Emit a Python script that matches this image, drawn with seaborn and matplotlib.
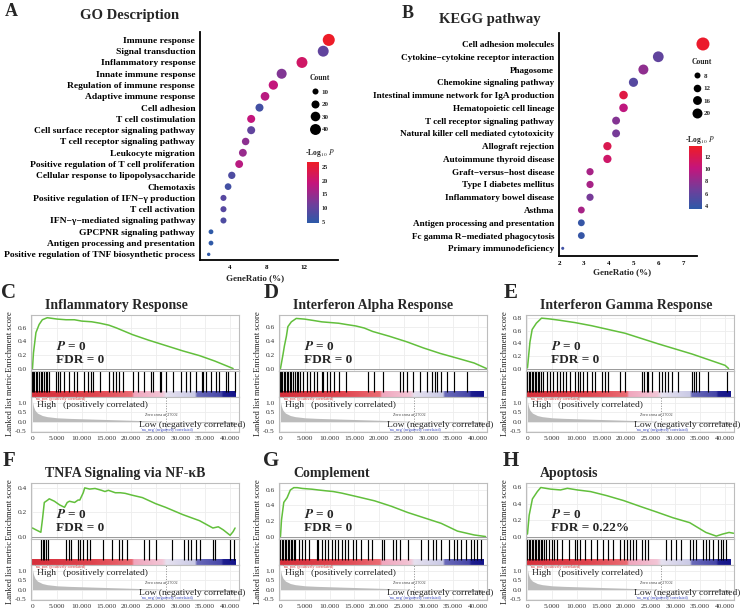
import numpy as np
import pandas as pd
import matplotlib
matplotlib.use('Agg')
import matplotlib.pyplot as plt
import seaborn as sns
from matplotlib.colors import LinearSegmentedColormap, Normalize
from matplotlib.cm import ScalarMappable
from matplotlib.lines import Line2D

sns.set_style('white')
plt.rcParams['font.family'] = ['Liberation Serif', 'DejaVu Serif']
plt.rcParams['mathtext.fontset'] = 'stix'

# ---------------- GO enrichment (panel A) ----------------
go_terms = ['Immune response', 'Signal transduction', 'Inflammatory response',
            'Innate immune response', 'Regulation of immune response',
            'Adaptive immune response', 'Cell adhesion', 'T cell costimulation',
            'Cell surface receptor signaling pathway', 'T cell receptor signaling pathway',
            'Leukocyte migration', 'Positive regulation of T cell proliferation',
            'Cellular response to lipopolysaccharide', 'Chemotaxis',
            'Positive regulation of IFN\u2212\u03b3 production', 'T cell activation',
            'IFN\u2212\u03b3\u2212mediated signaling pathway', 'GPCPNR signaling pathway',
            'Antigen processing and presentation',
            'Positive regulation of TNF biosynthetic process']
go_ratio = [14.7, 14.1, 11.8, 9.6, 8.7, 7.8, 7.2, 6.3, 6.3, 5.7, 5.4, 5.0, 4.2, 3.8,
            3.3, 3.3, 3.3, 1.95, 1.95, 1.7]
go_count = [49, 40, 40, 33, 28, 24, 20, 20, 20, 17, 19, 19, 16, 13, 10, 10, 10, 5, 5, 1]
go_logp = [26.5, 10, 21, 13, 19, 18, 7, 19, 10, 14, 15, 18, 8, 7, 9, 9, 8, 5, 5, 5]
go_legend_counts = [10, 20, 30, 40]
go_cbar_ticks = [5, 10, 15, 20, 25]

# ---------------- KEGG enrichment (panel B) ----------------
kegg_terms = ['Cell adhesion molecules', 'Cytokine\u2212cytokine receptor interaction',
              'Phagosome', 'Chemokine signaling pathway',
              'Intestinal immune network for IgA production', 'Hematopoietic cell lineage',
              'T cell receptor signaling pathway', 'Natural killer cell mediated cytotoxicity',
              'Allograft rejection', 'Autoimmune thyroid disease',
              'Graft\u2212versus\u2212host disease', 'Type I diabetes mellitus',
              'Inflammatory bowel disease', 'Asthma', 'Antigen processing and presentation',
              'Fc gamma R\u2212mediated phagocytosis', 'Primary immunodeficiency']
kegg_ratio = [7.8, 6.0, 5.4, 5.0, 4.6, 4.6, 4.3, 4.3, 3.95, 3.95, 3.25, 3.25, 3.25,
              2.9, 2.9, 2.9, 2.15]
kegg_count = [33, 23, 20, 17, 15, 15, 13, 13, 14, 14, 11, 11, 11, 10, 10, 10, 3]
kegg_logp = [13.5, 6, 8, 5.5, 12.5, 10, 7.5, 7, 12, 11, 9, 9, 7, 9, 4, 4, 4.5]
kegg_legend_counts = [8, 12, 16, 20]
kegg_cbar_ticks = [4, 6, 8, 10, 12]

# ---------------- GSEA panels (C-H) ----------------
rank_x = [0, 200, 500, 1000, 2000, 3000, 5000, 7500, 10000, 15000, 20000, 25000,
          27000, 30000, 35000, 40000, 40800, 41000]
rank_y = [1.05, 0.8, 0.6, 0.45, 0.32, 0.26, 0.2, 0.17, 0.15, 0.11, 0.07, 0.03,
          0.0, -0.03, -0.06, -0.1, -0.2, -0.45]
rank_xticks = [0, 5000, 10000, 15000, 20000, 25000, 30000, 35000, 40000]
rank_xlabels = ['0', '5.000', '10.000', '15.000', '20.000', '25.000', '30.000',
                '35.000', '40.000']

c_es_x = [0, 200, 700, 1350, 2000, 3000, 4000, 5000, 6800, 8500, 10000, 12000, 13600,
          15500, 17000, 20300, 23500, 27000, 30500, 33900, 37000, 40700]
c_es_y = [0, 0.23, 0.53, 0.65, 0.72, 0.75, 0.74, 0.73, 0.72, 0.72, 0.70, 0.69, 0.67,
          0.64, 0.60, 0.50, 0.42, 0.34, 0.26, 0.19, 0.11, 0.0]
c_hits = [0, 200, 400, 700, 1000, 1300, 1700, 1900, 2400, 2800, 3000, 3400, 4700, 5100,
          5600, 6400, 7500, 8500, 9100, 10500, 11200, 11900, 12200, 13600, 15600, 16300,
          16900, 17600, 18300, 20300, 21400, 22700, 24100, 24400, 25800, 26100, 27100,
          28500, 30200, 31200, 31900, 33200, 34300, 34600, 35200, 36300, 37300, 37900,
          39300, 39600, 41000]

d_es_x = [0, 500, 800, 1200, 1500, 2200, 3200, 4900, 6700, 8400, 10100, 11800, 13500,
          15300, 17000, 18700, 22100, 25600, 29000, 32400, 35900, 39300, 41800]
d_es_y = [0, 0.2, 0.33, 0.47, 0.61, 0.68, 0.73, 0.72, 0.70, 0.68, 0.67, 0.66, 0.64,
          0.62, 0.59, 0.54, 0.47, 0.39, 0.30, 0.22, 0.15, 0.08, 0.0]
d_hits = [0, 200, 400, 700, 1000, 1300, 1600, 1900, 2200, 2500, 2900, 3300, 3600, 3900,
          4600, 5300, 6000, 6700, 7400, 8400, 8700, 9400, 10100, 10800, 11800, 13200,
          17700, 19000, 20800, 24200, 24900, 25600, 26900, 28300, 29700, 30700, 31400,
          31800, 32500, 33800, 35200, 37900]

e_es_x = [0, 500, 950, 1800, 2850, 4200, 6200, 9600, 13000, 19800, 26600, 33400,
          40100, 40800]
e_es_y = [0.01, 0.42, 0.62, 0.72, 0.80, 0.79, 0.77, 0.73, 0.68, 0.56, 0.39, 0.23,
          0.05, 0.0]
e_hits = [0, 300, 600, 900, 1200, 1500, 1800, 2100, 2400, 2700, 3200, 3900, 4500,
          5200, 5900, 6600, 7300, 7900, 8600, 9600, 10200, 10600, 11300, 12000, 13000,
          13700, 15100, 15700, 16400, 18800, 19800, 23200, 23700, 24200, 24500, 25200,
          26600, 27300, 27900, 28600, 29300, 30600, 33400, 33800, 34200, 34700, 36700,
          40500]

f_es_x = [0, 700, 1700, 2050, 2400, 3100, 3400, 4450, 5500, 6500, 7050, 7500, 8550,
          9250, 9600, 10300, 10600, 11600, 12700, 14000, 14700, 15400, 16800, 17800,
          18800, 20200, 22300, 25000, 27000, 30500, 33900, 36600, 37700, 38700, 40100,
          40700, 41100]
f_es_y = [0.07, 0.055, 0.035, 0.15, 0.28, 0.30, 0.31, 0.29, 0.26, 0.24, 0.28, 0.29,
          0.28, 0.30, 0.30, 0.36, 0.40, 0.39, 0.395, 0.38, 0.37, 0.38, 0.36, 0.36,
          0.355, 0.34, 0.32, 0.27, 0.24, 0.18, 0.13, 0.07, 0.08, 0.055, 0.01, 0.04, 0.07]
f_hits = [1700, 2050, 2400, 2700, 3100, 6800, 7500, 7900, 9200, 9600, 10300, 11000,
          11600, 14400, 16100, 17500, 18200, 19200, 22600, 23600, 25000, 28400, 30800,
          31500, 32200, 33200, 33900, 36600, 37000, 40100, 40800]

g_es_x = [0, 200, 670, 1340, 2000, 2700, 3400, 4400, 6400, 7700, 9100, 10700, 12400,
          14100, 15800, 19100, 22500, 25800, 29200, 32600, 35900, 39300, 41600]
g_es_y = [0, 0.21, 0.44, 0.50, 0.60, 0.63, 0.63, 0.62, 0.61, 0.60, 0.59, 0.58, 0.56,
          0.535, 0.51, 0.46, 0.39, 0.31, 0.24, 0.17, 0.07, 0.02, 0.0]
g_hits = [0, 300, 600, 900, 1200, 1500, 1800, 2100, 2400, 2700, 3000, 3700, 4400, 5000,
          5700, 7400, 7700, 8400, 9100, 9700, 10400, 11100, 11700, 12400, 13100, 13800,
          14800, 15400, 16400, 17800, 18500, 20500, 21100, 22800, 23500, 24200, 25800,
          28500, 29900, 30900, 31500, 32600, 34200, 35200, 35900, 36600, 37600, 38600,
          39300, 39900, 40600]

h_es_x = [0, 340, 1000, 2000, 2700, 3700, 4700, 6700, 8100, 10100, 12800, 16100, 19500,
          22800, 26200, 29500, 32900, 36200, 38300, 39600, 40900, 41800]
h_es_y = [0.03, 0.26, 0.46, 0.55, 0.60, 0.59, 0.58, 0.57, 0.59, 0.57, 0.55, 0.50, 0.44,
          0.37, 0.30, 0.23, 0.17, 0.05, 0.005, 0.03, 0.05, 0.04]
h_hits = [0, 300, 600, 900, 1200, 1500, 1800, 2100, 2400, 2700, 3000, 3300, 3700, 4400,
          5000, 5400, 6000, 7000, 8400, 9700, 10100, 10700, 11700, 12800, 14100, 15400,
          16400, 17400, 18800, 19500, 20100, 20800, 21500, 22100, 23200, 23800, 24500,
          28200, 29200, 30200, 31200, 32900, 33600, 34200, 35600, 36200, 36900, 37600,
          38600, 39300, 39600, 40300]

gsea_titles = ['Inflammatory Response', 'Interferon Alpha Response',
               'Interferon Gamma Response', 'TNFA Signaling via NF-\u03baB',
               'Complement', 'Apoptosis']
gsea_letters = ['C', 'D', 'E', 'F', 'G', 'H']
gsea_fdr = ['FDR = 0', 'FDR = 0', 'FDR = 0', 'FDR = 0', 'FDR = 0', 'FDR = 0.22%']
gsea_es_ticks = [[0, 0.2, 0.4, 0.6], [0, 0.2, 0.4, 0.6], [0, 0.2, 0.4, 0.6, 0.8],
                 [0, 0.2, 0.4], [0, 0.2, 0.4, 0.6], [0, 0.2, 0.4, 0.6]]
gsea_es_top = [0.79, 0.78, 0.85, 0.44, 0.69, 0.655]
gsea_zero_cross = [27002, 27002, 27002, 27002, 27002, 27002]

# ---------------- figure ----------------
W, H = 743, 616
fig = plt.figure(figsize=(W / 100, H / 100), dpi=100)


def px(x0, y0, w, h):
    return [x0 / W, 1 - (y0 + h) / H, w / W, h / H]


def ftext(x, y, s, **kw):
    return fig.text(x / W, 1 - y / H, s, **kw)


dot_cmap = LinearSegmentedColormap.from_list(
    'logp', [(0, '#2c5aa8'), (0.3, '#6e3f9b'), (0.65, '#c4157c'), (1, '#ee1c25')])


def dot_panel(rect, terms, ratio, count, logp, xlim, xticks, ylim, size_norm, sizes,
              hue_norm, leg_counts, leg_anchor, cbar_rect, cbar_ticks, cbar_title_xy,
              xlabel_xy, label_size):
    ax = fig.add_axes(px(*rect))
    df = pd.DataFrame({'term': terms, 'ratio': ratio, 'count': count, 'logp': logp})
    df['pos'] = np.arange(len(df))
    sns.scatterplot(data=df, x='ratio', y='pos', hue='logp', size='count',
                    palette=dot_cmap, hue_norm=hue_norm, sizes=sizes,
                    size_norm=size_norm, linewidth=0, legend=False, ax=ax,
                    clip_on=False)
    ax.set_xlim(*xlim)
    ax.set_ylim(*ylim)
    ax.set_yticks(df['pos'])
    ax.set_yticklabels(terms, fontweight='bold', fontsize=label_size)
    ax.set_xticks(xticks)
    ax.set_xticklabels([str(t) for t in xticks], fontweight='bold', fontsize=5)
    ax.set_xlabel('')
    ax.set_ylabel('')
    sns.despine(ax=ax)
    for s in ['left', 'bottom']:
        ax.spines[s].set_linewidth(1.3)
        ax.spines[s].set_color('black')
    ax.tick_params(length=2, width=0.7, pad=1.5, colors='black')
    ax.patch.set_alpha(0)

    def msize(c):
        s = sizes[0] + (c - size_norm[0]) / (size_norm[1] - size_norm[0]) * (sizes[1] - sizes[0])
        return np.sqrt(s)

    handles = [Line2D([], [], ls='', marker='o', color='black', markeredgewidth=0,
                      markersize=msize(c)) for c in leg_counts]
    ax.legend(handles, [str(c) for c in leg_counts], title='Count',
              loc='upper left', bbox_to_anchor=(leg_anchor[0] / W, 1 - leg_anchor[1] / H),
              bbox_transform=fig.transFigure, frameon=False,
              prop={'weight': 'bold', 'size': 5},
              title_fontproperties={'weight': 'bold', 'size': 5.5},
              handletextpad=0.4, labelspacing=0.95, borderpad=0, handlelength=1.2)

    cax = fig.add_axes(px(*cbar_rect))
    cb = fig.colorbar(ScalarMappable(norm=Normalize(*hue_norm), cmap=dot_cmap), cax=cax)
    cb.set_ticks(cbar_ticks)
    cb.outline.set_visible(False)
    cax.tick_params(length=2.5, width=0.6, color='white', direction='in', labelsize=4.5,
                    left=True, right=True, pad=2)
    for t in cax.get_yticklabels():
        t.set_fontweight('bold')
    ftext(cbar_title_xy[0], cbar_title_xy[1], r'-Log$_{10}$ $\mathit{P}$', fontsize=5.5,
          fontweight='bold', ha='center', va='center')
    ftext(xlabel_xy[0], xlabel_xy[1], 'GeneRatio (%)', fontsize=6.5, fontweight='bold',
          ha='center', va='center')
    return ax


dot_panel((200, 32, 138, 228), go_terms, go_ratio, go_count, go_logp,
          xlim=(0.76, 15.7), xticks=[4, 8, 12], ylim=(19.5, -0.7),
          size_norm=(0, 50), sizes=(4.7, 76.2), hue_norm=(4.6, 26.8),
          leg_counts=go_legend_counts, leg_anchor=(306, 71),
          cbar_rect=(307, 162, 12, 61), cbar_ticks=go_cbar_ticks,
          cbar_title_xy=(320, 153), xlabel_xy=(255, 278), label_size=6.8)
dot_panel((559, 33, 138, 223), kegg_terms, kegg_ratio, kegg_count, kegg_logp,
          xlim=(2, 7.56), xticks=[2, 3, 4, 5, 6, 7], ylim=(16.6, -0.86),
          size_norm=(2, 35), sizes=(2.1, 93.2), hue_norm=(3.5, 13.8),
          leg_counts=kegg_legend_counts, leg_anchor=(688, 55),
          cbar_rect=(689, 146, 13, 63), cbar_ticks=kegg_cbar_ticks,
          cbar_title_xy=(700, 140), xlabel_xy=(622, 272), label_size=6.6)

ftext(11, 11, 'A', fontsize=13, fontweight='bold', ha='center', va='center')
ftext(408, 14, 'B', fontsize=13, fontweight='bold', ha='center', va='center')
ftext(130, 16, 'GO Description', fontsize=10.5, fontweight='bold', ha='center', va='center')
ftext(490, 20, 'KEGG pathway', fontsize=10.5, fontweight='bold', ha='center', va='center')

# ---------------- GSEA ----------------
band_cmap = LinearSegmentedColormap.from_list(
    'band', [(0.0, '#d62f3b'), (0.3, '#df444e'), (0.49, '#ea6c74'), (0.5, '#f0a6bd'),
             (0.64, '#f3c6d6'), (0.66, '#e6e2f0'), (0.80, '#cacae6'), (0.81, '#6a6ab8'),
             (0.93, '#4646a8'), (0.94, '#1e1e8e'), (1.0, '#14148a')])

gsea_es_x = [c_es_x, d_es_x, e_es_x, f_es_x, g_es_x, h_es_x]
gsea_es_y = [c_es_y, d_es_y, e_es_y, f_es_y, g_es_y, h_es_y]
gsea_hits = [c_hits, d_hits, e_hits, f_hits, g_hits, h_hits]
col_lefts = [31, 279, 526]
row_tops = [315, 483]
XLIM = (-300, 41900)
frame_col = '#bdbdbd'


def style_frame(ax):
    for s in ax.spines.values():
        s.set_color(frame_col)
        s.set_linewidth(0.8)


for i in range(6):
    x0 = col_lefts[i % 3]
    y0 = row_tops[i // 3]
    top = gsea_es_top[i]

    ax_es = fig.add_axes(px(x0, y0, 208, 56))
    sns.lineplot(x=gsea_es_x[i], y=gsea_es_y[i], ax=ax_es, color='#62bf3c',
                 linewidth=1.1, estimator=None)
    ax_es.set_xlim(*XLIM)
    ax_es.set_ylim(-top * 2.5 / 54, top)
    ax_es.set_xticks(rank_xticks)
    ax_es.set_xticklabels([])
    ax_es.set_yticks(gsea_es_ticks[i])
    ax_es.set_yticklabels(['%.1f' % v for v in gsea_es_ticks[i]])
    ax_es.grid(True, color='#ededed', linewidth=0.6)
    ax_es.axhline(0, color='#9a9a9a', linewidth=0.7)
    ax_es.tick_params(length=0, labelsize=5.3, labelcolor='#333333', pad=3)
    style_frame(ax_es)
    ax_es.text(0.12, 0.43, r'$\boldsymbol{P}$ = 0', transform=ax_es.transAxes,
               fontsize=9.5, fontweight='bold', ha='left', va='center')
    ax_es.text(0.12, 0.2, gsea_fdr[i], transform=ax_es.transAxes, fontsize=9.5,
               fontweight='bold', ha='left', va='center')

    ax_hit = fig.add_axes(px(x0, y0 + 56, 208, 26))
    ax_hit.vlines(gsea_hits[i], 0.2, 1, color='black', linewidth=0.85)
    ax_hit.imshow(np.linspace(0, 1, 256)[None, :], aspect='auto', cmap=band_cmap,
                  extent=(0, 41200, 0, 0.2))
    ax_hit.set_xlim(*XLIM)
    ax_hit.set_ylim(0, 1)
    ax_hit.set_xticks([])
    ax_hit.set_yticks([])
    style_frame(ax_hit)

    ax_rk = fig.add_axes(px(x0, y0 + 82, 208, 35))
    ax_rk.fill_between(rank_x, rank_y, 0, color='#bcbcbc', linewidth=0)
    ax_rk.axvline(gsea_zero_cross[i], color='#8a8a8a', linestyle=':', linewidth=0.7)
    ax_rk.set_xlim(*XLIM)
    ax_rk.set_ylim(-0.55, 1.3)
    ax_rk.set_yticks([1.0, 0.5, 0.0, -0.5])
    ax_rk.set_yticklabels(['1.0', '0.5', '0.0', '-0.5'])
    ax_rk.set_xticks(rank_xticks)
    ax_rk.set_xticklabels(rank_xlabels)
    ax_rk.grid(True, color='#ededed', linewidth=0.6)
    ax_rk.tick_params(length=0, labelsize=5.3, labelcolor='#333333', pad=3)
    style_frame(ax_rk)
    ax_rk.text(0.02, 0.93, "'na_pos' (positively correlated)", transform=ax_rk.transAxes,
               fontsize=3, color='#d03030', ha='left', va='center')
    ax_rk.text(0.03, 0.76, 'High   (positively correlated)', transform=ax_rk.transAxes,
               fontsize=6.8, color='#222222', ha='left', va='center')
    ax_rk.text(0.55, 0.5, 'Zero cross at %d' % gsea_zero_cross[i],
               transform=ax_rk.transAxes, fontsize=3, color='#333333', ha='left',
               va='center')
    ax_rk.text(0.52, 0.2, 'Low (negatively correlated)', transform=ax_rk.transAxes,
               fontsize=6.8, color='#222222', ha='left', va='center')
    ax_rk.text(0.53, 0.05, "'na_neg' (negatively correlated)", transform=ax_rk.transAxes,
               fontsize=3, color='#3040c0', ha='left', va='center')

    ftext(x0 - 21, y0 + 27, 'Enrichment score', rotation=90, fontsize=6.2,
          ha='center', va='center', color='#222222')
    ftext(x0 - 21, y0 + 89, 'Lanked list metric', rotation=90, fontsize=6.2,
          ha='center', va='center', color='#222222')
    lx = [9, 271, 511][i % 3]
    ftext(lx, y0 - 22, gsea_letters[i], fontsize=15, fontweight='bold', ha='center',
          va='center')
    ftext(x0 + 14, y0 - 10, gsea_titles[i], fontsize=10, fontweight='bold', ha='left',
          va='center')

fig.savefig('out.png', dpi=100)
